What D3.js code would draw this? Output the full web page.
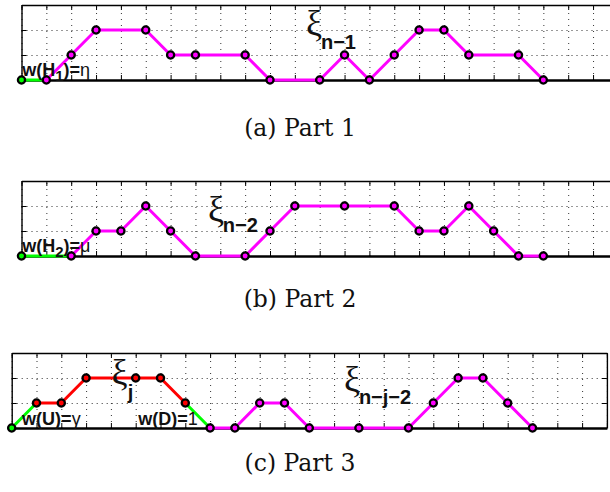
<!DOCTYPE html>
<html>
<head>
<meta charset="utf-8">
<script src="https://cdn.jsdelivr.net/npm/d3@7"></script>
<style>
  body { margin: 0; background: #fff; }
  svg { display: block; }
</style>
</head>
<body>
<div id="chart"></div>
<script>
// path of each part: x step index, height level, and which piece each step belongs to
// 'w' = weighted first step, 'j' = inner excursion xi_j, 'n' = rest of the path
const xA = [0, 1, 2, 3, 5, 6, 7, 9, 10, 12, 13, 14, 15, 16, 17, 18, 20, 21];
const yA = [0, 0, 1, 2, 2, 1, 1, 1, 0, 0, 1, 0, 1, 2, 2, 1, 1, 0];
const pieceA = ['w', 'n', 'n', 'n', 'n', 'n', 'n', 'n', 'n', 'n', 'n', 'n', 'n', 'n', 'n', 'n', 'n', 'n'];

const xB = [0, 2, 3, 4, 5, 6, 7, 9, 10, 11, 13, 15, 16, 17, 18, 19, 20, 21];
const yB = [0, 0, 1, 1, 2, 1, 0, 0, 1, 2, 2, 2, 1, 1, 2, 1, 0, 0];
const pieceB = ['w', 'n', 'n', 'n', 'n', 'n', 'n', 'n', 'n', 'n', 'n', 'n', 'n', 'n', 'n', 'n', 'n', 'n'];

const xC = [0, 1, 2, 3, 5, 6, 7, 8, 9, 10, 11, 12, 14, 16, 17, 18, 19, 20, 21];
const yC = [0, 1, 1, 2, 2, 2, 1, 0, 0, 1, 1, 0, 0, 0, 1, 2, 2, 1, 0];
// piece of each point; a segment takes the piece of its start point,
// except that the step down out of xi_j is weighted too
const pointPieceC = ['w', 'j', 'j', 'j', 'j', 'j', 'j', 'n', 'n', 'n', 'n', 'n', 'n', 'n', 'n', 'n', 'n', 'n', 'n'];
const segPieceC = ['w', 'j', 'j', 'j', 'j', 'j', 'w', 'n', 'n', 'n', 'n', 'n', 'n', 'n', 'n', 'n', 'n', 'n'];

const xTicks = d3.range(0, 25);
const yTicks = [0, 1, 2, 3];
const captions = ['(a) Part 1', '(b) Part 2', '(c) Part 3'];

const W = 610, H = 492;

const color = d3.scaleOrdinal()
  .domain(['w', 'j', 'n'])
  .range(['#00ff00', '#ff0000', '#ff00ff']);

const svg = d3.select('#chart')
  .append('svg')
  .attr('width', W)
  .attr('height', H);

function drawPanel(p) {
  const x = d3.scaleLinear().domain([0, 24]).range([p.left, p.left + 24 * p.step]);
  const y = d3.scaleLinear().domain([0, 3]).range([p.bottom, p.bottom - 75]);

  const g = svg.append('g');

  // dotted grid
  g.append('g')
    .attr('transform', `translate(0,${y(0)})`)
    .call(d3.axisBottom(x).tickValues(xTicks).tickSize(-75).tickFormat(''))
    .call(s => s.select('.domain').remove())
    .selectAll('line')
    .attr('stroke', '#333')
    .attr('stroke-width', 1)
    .attr('stroke-dasharray', '1,5');
  g.append('g')
    .attr('transform', `translate(${x(0)},0)`)
    .call(d3.axisLeft(y).tickValues([1, 2]).tickSize(-24 * p.step).tickFormat(''))
    .call(s => s.select('.domain').remove())
    .selectAll('line')
    .attr('stroke', '#333')
    .attr('stroke-width', 1)
    .attr('stroke-dasharray', '1,4');

  // inward ticks on all four sides
  const tk = 5;
  g.append('g')
    .attr('transform', `translate(0,${y(0)})`)
    .call(d3.axisBottom(x).tickValues(xTicks).tickSizeInner(-tk).tickSizeOuter(0).tickFormat(''))
    .call(s => s.select('.domain').attr('stroke-width', 2.6));
  g.append('g')
    .attr('transform', `translate(0,${y(3)})`)
    .call(d3.axisTop(x).tickValues(xTicks).tickSizeInner(-tk).tickSizeOuter(0).tickFormat(''))
    .call(s => s.select('.domain').attr('stroke-width', 1.4));
  g.append('g')
    .attr('transform', `translate(${x(0)},0)`)
    .call(d3.axisLeft(y).tickValues(yTicks).tickSizeInner(-tk).tickSizeOuter(0).tickFormat(''))
    .call(s => s.select('.domain').attr('stroke-width', 1.4));
  g.append('g')
    .attr('transform', `translate(${x(24)},0)`)
    .call(d3.axisRight(y).tickValues(yTicks).tickSizeInner(-tk).tickSizeOuter(0).tickFormat(''))
    .call(s => s.select('.domain').attr('stroke-width', 1.4));

  // path segments
  const pts = p.xs.map((d, i) => ({ x: d, y: p.ys[i], piece: p.pointPiece[i] }));
  const segs = d3.pairs(pts).map(([a, b], i) => ({ a, b, piece: p.segPiece[i] }));

  g.selectAll('.seg')
    .data(segs)
    .enter()
    .append('line')
    .attr('x1', d => x(d.a.x))
    .attr('y1', d => y(d.a.y))
    .attr('x2', d => x(d.b.x))
    .attr('y2', d => y(d.b.y))
    .attr('stroke', d => color(d.piece))
    .attr('stroke-width', 3)
    .attr('stroke-linecap', 'round');

  g.selectAll('.pt')
    .data(pts)
    .enter()
    .append('circle')
    .attr('cx', d => x(d.x))
    .attr('cy', d => y(d.y))
    .attr('r', 3.6)
    .attr('fill', d => color(d.piece))
    .attr('stroke', '#000')
    .attr('stroke-width', 2.3);

  // labels
  p.labels.forEach(l => {
    const t = g.append('text')
      .attr('x', x(l.x))
      .attr('y', y(l.y))
      .attr('fill', '#111');
    l.parts.forEach(s => {
      t.append('tspan')
        .attr('font-family', s.serif ? '"Liberation Serif", serif' : '"Liberation Sans", Arial, sans-serif')
        .attr('font-weight', s.bold ? 'bold' : 'normal')
        .attr('font-size', s.size)
        .attr('dy', s.dy || 0)
        .text(s.t);
    });
  });

  svg.append('text')
    .attr('x', 300)
    .attr('y', p.captionY)
    .attr('text-anchor', 'middle')
    .attr('font-family', '"DejaVu Serif", serif')
    .attr('font-size', 23.5)
    .attr('fill', '#111')
    .text(p.caption);
}

const weight = (name, sub, greek) => [
  { t: 'w(' + name, bold: true, size: 18 },
  ...(sub ? [{ t: sub, bold: true, size: 15, dy: 5 }, { t: ')=', bold: true, size: 18, dy: -5 }]
          : [{ t: ')=', bold: true, size: 18 }]),
  { t: greek, size: 18 }
];

drawPanel({
  left: 21.5, bottom: 80, step: 24.85,
  xs: xA, ys: yA, pointPiece: pieceA, segPiece: pieceA,
  caption: captions[0], captionY: 136,
  labels: [
    { x: 11.45, y: 1.82, parts: [{ t: 'ξ', serif: true, size: 36 }] },
    { x: 12.05, y: 1.24, parts: [{ t: 'n−1', bold: true, size: 20 }] },
    { x: 0.03, y: 0.16, parts: weight('H', '1', 'η') }
  ]
});

drawPanel({
  left: 21.5, bottom: 256, step: 24.85,
  xs: xB, ys: yB, pointPiece: pieceB, segPiece: pieceB,
  caption: captions[1], captionY: 307,
  labels: [
    { x: 7.5, y: 1.4, parts: [{ t: 'ξ', serif: true, size: 36 }] },
    { x: 8.1, y: 0.98, parts: [{ t: 'n−2', bold: true, size: 20 }] },
    { x: 0.03, y: 0.16, parts: weight('H', '2', 'μ') }
  ]
});

drawPanel({
  left: 11.7, bottom: 428, step: 24.8,
  xs: xC, ys: yC, pointPiece: pointPieceC, segPiece: segPieceC,
  caption: captions[2], captionY: 471,
  labels: [
    { x: 4.02, y: 1.76, parts: [{ t: 'ξ', serif: true, size: 36 }] },
    { x: 4.68, y: 1.16, parts: [{ t: 'j', bold: true, size: 20 }] },
    { x: 13.4, y: 1.5, parts: [{ t: 'ξ', serif: true, size: 36 }] },
    { x: 14.0, y: 0.95, parts: [{ t: 'n−j−2', bold: true, size: 20 }] },
    { x: 0.42, y: 0.12, parts: weight('U', null, 'γ') },
    { x: 5.1, y: 0.12, parts: weight('D', null, '1') }
  ]
});
</script>
</body>
</html>
